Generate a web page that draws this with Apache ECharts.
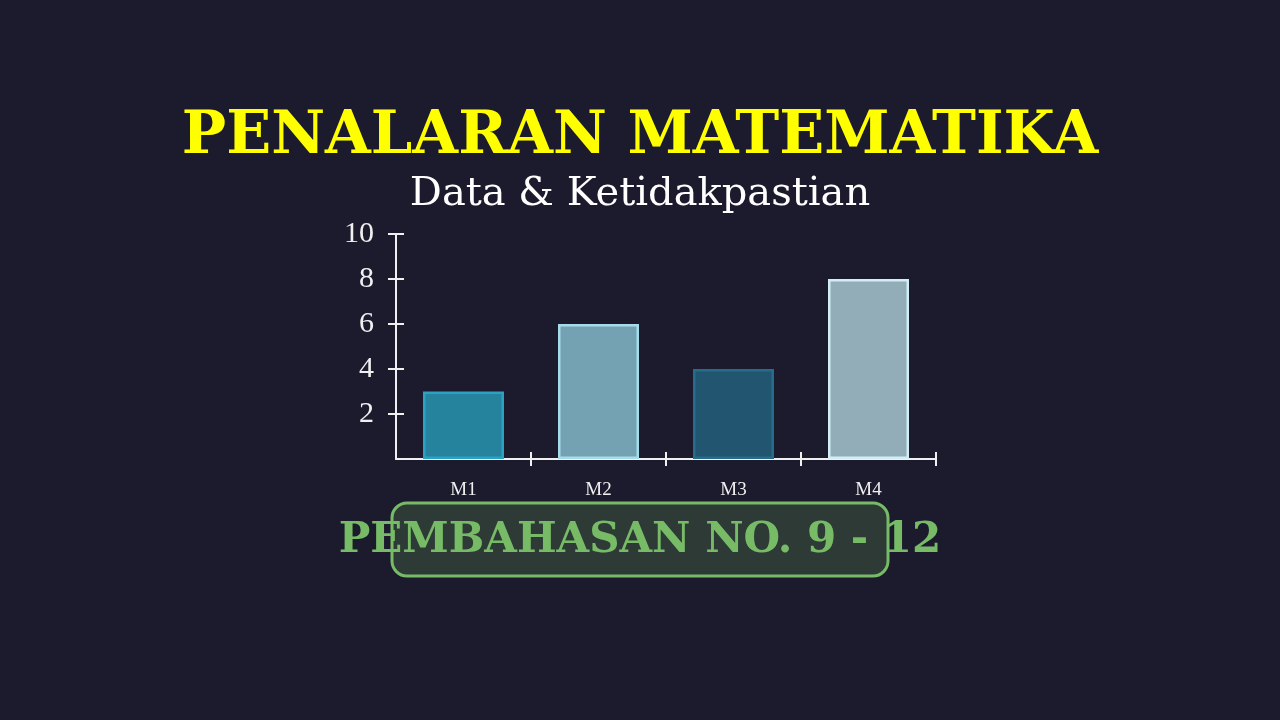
<!DOCTYPE html>
<html><head><meta charset="utf-8">
<script src="https://cdn.jsdelivr.net/npm/echarts@6/dist/echarts.min.js"></script>
<style>html,body{margin:0;padding:0;background:#1b1b2d}#c{width:1280px;height:720px}</style>
</head><body><div id="c"></div>
<script>
const categories = ['M1','M2','M3','M4'];
const values = [3, 6, 4, 8];
const yTicks = [2, 4, 6, 8, 10];
const fills = ['#25839e','#74a2b3','#22556f','#93adb8'];
const borders = ['#2ba2c4','#a6dbea','#286c8c','#d2eef5'];
const titleText = 'PENALARAN MATEMATIKA';
const subtitleText = 'Data & Ketidakpastian';
const footerText = 'PEMBAHASAN NO. 9 - 12';

const chart = echarts.init(document.getElementById('c'));
const serif = 'Liberation Serif';
const axisCol = '#f0f0f0';
const grid = {left:396, right:344, top:234, bottom:261};
const tickFn = (i) => i !== 0;
chart.setOption({
  backgroundColor:'#1b1b2d',
  animation:false,
  grid:[grid],
  xAxis:[
    {type:'category', data:categories, gridIndex:0, position:'bottom',
     axisLine:{lineStyle:{color:axisCol,width:2}},
     axisTick:{show:true, length:7, interval:tickFn, lineStyle:{color:axisCol,width:2}},
     axisLabel:{color:axisCol, fontFamily:serif, fontSize:19, margin:22}},
    {type:'category', data:categories, gridIndex:0, position:'bottom', offset:0,
     axisLine:{show:false},
     axisTick:{show:true, inside:true, length:7, interval:tickFn, lineStyle:{color:axisCol,width:2}},
     axisLabel:{show:false}}
  ],
  yAxis:[
    {type:'value', min:0, max:10, interval:2, position:'left',
     splitLine:{show:false},
     axisLine:{show:true, lineStyle:{color:axisCol,width:2}},
     axisTick:{show:true, length:8, customValues:yTicks, lineStyle:{color:axisCol,width:2}},
     axisLabel:{color:axisCol, fontFamily:serif, fontSize:30, margin:22, customValues:yTicks}},
    {type:'value', min:0, max:10, interval:2, position:'left',
     splitLine:{show:false},
     axisLine:{show:false},
     axisTick:{show:true, inside:true, length:8, customValues:yTicks, lineStyle:{color:axisCol,width:2}},
     axisLabel:{show:false}}
  ],
  series:[{
    type:'bar', xAxisIndex:0, yAxisIndex:0, barWidth:'60%',
    data: values.map((v,i)=>({value:v, itemStyle:{color:fills[i], borderColor:borders[i], borderWidth:2.5}}))
  }],
  graphic:[
    {type:'text', left:'center', top:108, z:10,
     style:{text:titleText, font:'bold 59px "DejaVu Serif"', fill:'#ffff00'}},
    {type:'text', left:'center', top:175, z:10,
     style:{text:subtitleText, font:'40px "DejaVu Serif"', fill:'#ffffff'}},
    {type:'rect', shape:{x:392, y:503, width:496, height:73, r:15}, z:5,
     style:{fill:'#2d3a36', stroke:'#77bb66', lineWidth:3}},
    {type:'text', left:'center', top:520, z:10,
     style:{text:footerText, font:'bold 42px "DejaVu Serif"', fill:'#77bb66'}}
  ]
});
</script></body></html>
